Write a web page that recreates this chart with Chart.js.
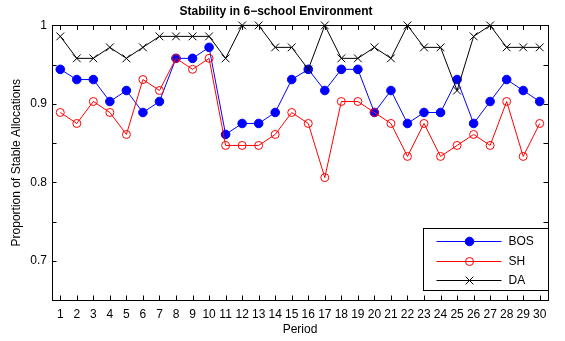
<!DOCTYPE html>
<html>
<head>
<meta charset="utf-8">
<script src="https://cdn.jsdelivr.net/npm/chart.js@4/dist/chart.umd.min.js"></script>
<style>
  body { margin: 0; background: #fff; }
  #wrap { width: 565px; height: 341px; position: relative; }
</style>
</head>
<body>
<div id="wrap"><canvas id="mycanvas"></canvas></div>
<script>
var periods = [1,2,3,4,5,6,7,8,9,10,11,12,13,14,15,16,17,18,19,20,21,22,23,24,25,26,27,28,29,30];
var bos = [0.944,0.931,0.931,0.903,0.917,0.889,0.903,0.958,0.958,0.972,0.861,0.875,0.875,0.889,0.931,0.944,0.917,0.944,0.944,0.889,0.917,0.875,0.889,0.889,0.931,0.875,0.903,0.931,0.917,0.903];
var sh  = [0.889,0.875,0.903,0.889,0.861,0.931,0.917,0.958,0.944,0.958,0.847,0.847,0.847,0.861,0.889,0.875,0.806,0.903,0.903,0.889,0.875,0.833,0.875,0.833,0.847,0.861,0.847,0.903,0.833,0.875];
var da  = [0.986,0.958,0.958,0.972,0.958,0.972,0.986,0.986,0.986,0.986,0.958,1,1,0.972,0.972,0.944,1,0.958,0.958,0.972,0.958,1,0.972,0.972,0.917,0.986,1,0.972,0.972,0.972];
var yTicks = [0.7,0.75,0.8,0.85,0.9,0.95,1];
var yLabels = {0.7:'0.7', 0.8:'0.8', 0.9:'0.9', 1:'1'};

var font = "'Liberation Sans', Arial, Helvetica, sans-serif";

function toPoints(vals) {
    var pts = [];
    for (var i in periods) {
        pts.push({x: periods[i], y: vals[i]});
    }
    return pts;
}

// axes box with inward ticks on all four sides (MATLAB style)
var boxPlugin = {
    id: 'box',
    beforeDatasetsDraw: function(chart) {
        var ctx = chart.ctx, a = chart.chartArea;
        var xs = chart.scales.x, ys = chart.scales.y;
        var tl = 4.5;
        ctx.save();
        ctx.strokeStyle = '#000';
        ctx.lineWidth = 1;
        ctx.beginPath();
        xs.ticks.forEach(function(t) {
            var px = Math.round(xs.getPixelForValue(t.value)) + 0.5;
            ctx.moveTo(px, a.bottom); ctx.lineTo(px, a.bottom - tl);
            ctx.moveTo(px, a.top); ctx.lineTo(px, a.top + tl);
        });
        ys.ticks.forEach(function(t) {
            var py = Math.round(ys.getPixelForValue(t.value)) + 0.5;
            ctx.moveTo(a.left, py); ctx.lineTo(a.left + tl, py);
            ctx.moveTo(a.right, py); ctx.lineTo(a.right - tl, py);
        });
        ctx.stroke();
        ctx.strokeRect(Math.round(a.left) + 0.5, Math.round(a.top) + 0.5,
            Math.round(a.right - a.left), Math.round(a.bottom - a.top));
        ctx.restore();
    }
};

// legend box in lower right, line + marker samples
var legendPlugin = {
    id: 'mlegend',
    afterDraw: function(chart) {
        var ctx = chart.ctx, a = chart.chartArea;
        var w = 125, h = 62;
        var x0 = Math.round(a.right - w) + 0.5, y0 = Math.round(a.bottom - 10 - h) + 0.5;
        ctx.save();
        ctx.fillStyle = '#fff';
        ctx.fillRect(x0, y0, w, h);
        ctx.strokeStyle = '#000';
        ctx.lineWidth = 1;
        ctx.strokeRect(x0, y0, w, h);
        ctx.font = '12px ' + font;
        ctx.textBaseline = 'middle';
        chart.data.datasets.forEach(function(ds, i) {
            var y = Math.round(y0 + 12.5 + i * 19.7) + 0.5;
            ctx.strokeStyle = ds.borderColor;
            ctx.lineWidth = ds.borderWidth;
            ctx.beginPath();
            ctx.moveTo(x0 + 13, y); ctx.lineTo(x0 + 78, y);
            ctx.stroke();
            ctx.fillStyle = ds.pointBackgroundColor;
            ctx.strokeStyle = ds.borderColor;
            ctx.lineWidth = 1;
            Chart.helpers.drawPoint(ctx, {pointStyle: ds.pointStyle, radius: ds.pointRadius, rotation: 0, borderWidth: 1}, x0 + 46, y);
            ctx.fillStyle = '#000';
            ctx.fillText(ds.label, x0 + 85, y);
        });
        ctx.restore();
    }
};

var chartdata = {
    datasets: [
        {
            label: 'BOS',
            data: toPoints(bos),
            borderColor: '#0000ff',
            backgroundColor: '#0000ff',
            pointBackgroundColor: '#0000ff',
            pointStyle: 'circle',
            pointRadius: 4.3,
            borderWidth: 1,
            order: 3,
            clip: false
        },
        {
            label: 'SH',
            data: toPoints(sh),
            borderColor: '#ff0000',
            backgroundColor: 'rgba(0,0,0,0)',
            pointBackgroundColor: 'rgba(0,0,0,0)',
            pointStyle: 'circle',
            pointRadius: 4,
            borderWidth: 1,
            order: 2,
            clip: false
        },
        {
            label: 'DA',
            data: toPoints(da),
            borderColor: '#000000',
            backgroundColor: '#000000',
            pointBackgroundColor: '#000000',
            pointStyle: 'crossRot',
            pointRadius: 5.5,
            borderWidth: 1,
            order: 1,
            clip: false
        }
    ]
};

Chart.defaults.font.family = font;
Chart.defaults.color = '#000';

var ctx = document.getElementById('mycanvas');
var lineGraph = new Chart(ctx, {
    type: 'line',
    data: chartdata,
    plugins: [boxPlugin, legendPlugin],
    options: {
        responsive: true,
        maintainAspectRatio: false,
        animation: false,
        layout: { padding: { left: 4, right: 17, top: 0, bottom: 0 } },
        elements: {
            line: { tension: 0 },
            point: { borderWidth: 1, hoverRadius: 4 }
        },
        plugins: {
            legend: { display: false },
            tooltip: { enabled: false },
            title: {
                display: true,
                text: 'Stability in 6\u2212school Environment',
                font: { size: 12, weight: 'bold' },
                color: '#000',
                padding: { top: 4, bottom: 7 }
            }
        },
        scales: {
            x: {
                type: 'linear',
                min: 0.5,
                max: 30.5,
                grid: { display: false, drawTicks: false },
                border: { display: false },
                afterBuildTicks: function(scale) {
                    scale.ticks = periods.map(function(p) { return {value: p}; });
                },
                afterFit: function(scale) { scale.height = 41; },
                ticks: {
                    autoSkip: false,
                    maxRotation: 0,
                    padding: 7,
                    font: { size: 12 },
                    callback: function(v) { return String(v); }
                },
                title: {
                    display: true,
                    text: 'Period',
                    font: { size: 12 },
                    padding: { top: 0, bottom: 4 }
                }
            },
            y: {
                min: 0.65,
                max: 1,
                grid: { display: false, drawTicks: false },
                border: { display: false },
                afterBuildTicks: function(scale) {
                    scale.ticks = yTicks.map(function(v) { return {value: v}; });
                },
                afterFit: function(scale) { scale.width = 48; },
                ticks: {
                    padding: 5,
                    font: { size: 12 },
                    callback: function(v) { return yLabels[v] || ''; }
                },
                title: {
                    display: true,
                    text: 'Proportion of Stable Allocations',
                    font: { size: 12 },
                    padding: { top: 5, bottom: 0 }
                }
            }
        }
    }
});
</script>
</body>
</html>
